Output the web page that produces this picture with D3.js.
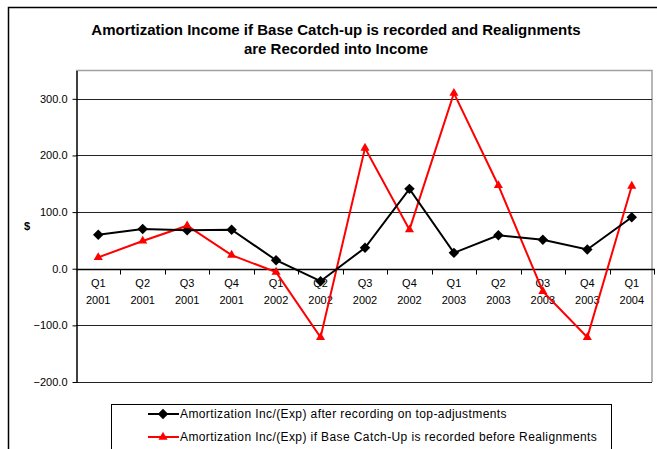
<!DOCTYPE html>
<html>
<head>
<meta charset="utf-8">
<script src="https://cdn.jsdelivr.net/npm/d3@7"></script>
<style>
  body { margin: 0; background: #fff; }
  svg { font-family: "Liberation Sans", Arial, sans-serif; }
  .tick text { font-size: 11px; fill: #000; font-family: "Liberation Sans", Arial, sans-serif; }
</style>
</head>
<body>
<svg id="chart" width="657" height="449"></svg>
<script>
const categories = ["Q1 2001", "Q2 2001", "Q3 2001", "Q4 2001", "Q1 2002", "Q2 2002", "Q3 2002",
                    "Q4 2002", "Q1 2003", "Q2 2003", "Q3 2003", "Q4 2003", "Q1 2004"]
const afterTopAdj = [60, 70, 68, 69, 15, -22, 37, 141, 28, 59, 51, 34, 91]
const baseCatchUp = [20, 49, 76, 24, -6, -121, 213, 69, 310, 147, -40, -121, 146]
const yTicks = [-200, -100, 0, 100, 200, 300]
const seriesNames = [
    "Amortization Inc/(Exp) after recording on top-adjustments",
    "Amortization Inc/(Exp) if Base Catch-Up is recorded before Realignments"
]

const chart = d3.select('#chart')

// outer chart border (runs off the picture on the right and bottom)
chart.append('rect')
    .attr('x', 8.5).attr('y', 7.5)
    .attr('width', 700).attr('height', 500)
    .attr('fill', 'none').attr('stroke', '#000').attr('stroke-width', 1.5)

// title
const title = chart.append('g').style('font-size', '15px').style('font-weight', 'bold')
title.append('text')
    .attr('x', 336).attr('y', 35)
    .attr('text-anchor', 'middle')
    .text('Amortization Income if Base Catch-up is recorded and Realignments')
title.append('text')
    .attr('x', 336).attr('y', 54)
    .attr('text-anchor', 'middle')
    .text('are Recorded into Income')

const x = d3.scaleBand().domain(categories).range([76, 654])
const cx = d => x(d) + x.bandwidth() / 2
const y = d3.scaleLinear().domain([-200, 350]).range([382, 70.5])

// plot area border (grey top and right)
chart.append('path')
    .attr('d', `M76,${y(350)}H652V${y(-200)}`)
    .attr('fill', 'none').attr('stroke', '#a0a0a0').attr('stroke-width', 1.5)

// gridlines
chart.append('g')
    .selectAll()
    .data(yTicks.filter(v => v !== 0))
    .enter()
    .append('line')
    .attr('x1', 76).attr('x2', 652)
    .attr('y1', v => Math.round(y(v)) + 0.5).attr('y2', v => Math.round(y(v)) + 0.5)
    .attr('stroke', '#222').attr('stroke-width', 1)

// y axis
const yAxis = d3.axisLeft(y)
    .tickValues(yTicks)
    .tickFormat(d3.format('.1f'))
    .tickSize(4)
    .tickSizeOuter(0)
    .tickPadding(5)
chart.append('g')
    .attr('transform', 'translate(76.5, 0)')
    .call(yAxis)
    .call(g => g.select('.domain').attr('stroke-width', 1.5))

chart.append('text')
    .attr('x', 27).attr('y', 230)
    .attr('text-anchor', 'middle')
    .style('font-size', '11px').style('font-weight', 'bold')
    .text('$')

// x axis at zero
const y0 = Math.round(y(0)) + 0.5
const xAxis = d3.axisBottom(x).tickSize(0).tickPadding(10)
const gx = chart.append('g')
    .attr('transform', `translate(0, ${y0})`)
    .call(xAxis)
gx.select('.domain').attr('d', 'M76,0H655').attr('stroke-width', 1.5)
gx.selectAll('.tick text').each(function (d) {
    const parts = d.split(' ')
    const t = d3.select(this).text(null)
    t.append('tspan').attr('x', 0).attr('dy', '0.71em').text(parts[0])
    t.append('tspan').attr('x', 0).attr('dy', '1.5em').text(parts[1])
})
// category separator ticks
chart.append('g')
    .selectAll()
    .data(categories.slice(1).concat(['end']))
    .enter()
    .append('line')
    .attr('x1', (d, i) => Math.round(x.range()[0] + (i + 1) * x.step()) + 0.5)
    .attr('x2', (d, i) => Math.round(x.range()[0] + (i + 1) * x.step()) + 0.5)
    .attr('y1', y0).attr('y2', y0 + 5)
    .attr('stroke', '#000')

// series
const line = d3.line().x((d, i) => cx(categories[i])).y(d => y(d))

chart.append('path')
    .datum(baseCatchUp)
    .attr('d', line)
    .attr('fill', 'none').attr('stroke', '#ff0000').attr('stroke-width', 2)

chart.append('path')
    .datum(afterTopAdj)
    .attr('d', line)
    .attr('fill', 'none').attr('stroke', '#000').attr('stroke-width', 2)

const diamond = d3.symbol().type(d3.symbolDiamond2).size(70)
const triangle = d3.symbol().type(d3.symbolTriangle).size(36)

chart.append('g')
    .selectAll()
    .data(afterTopAdj)
    .enter()
    .append('path')
    .attr('d', diamond)
    .attr('transform', (d, i) => `translate(${cx(categories[i])}, ${y(d)})`)
    .attr('fill', '#000')

chart.append('g')
    .selectAll()
    .data(baseCatchUp)
    .enter()
    .append('path')
    .attr('d', triangle)
    .attr('transform', (d, i) => `translate(${cx(categories[i])}, ${y(d)})`)
    .attr('fill', '#ff0000')

// legend
chart.append('rect')
    .attr('x', 111.5).attr('y', 404.5)
    .attr('width', 500).attr('height', 60)
    .attr('fill', '#fff').attr('stroke', '#000')

const legend = chart.append('g')
    .selectAll()
    .data(seriesNames)
    .enter()
    .append('g')
    .attr('transform', (d, i) => `translate(0, ${414 + i * 23})`)

legend.append('line')
    .attr('x1', 148).attr('x2', 179)
    .attr('stroke', (d, i) => i === 0 ? '#000' : '#ff0000').attr('stroke-width', 2)
legend.append('path')
    .attr('d', (d, i) => i === 0 ? diamond() : triangle())
    .attr('transform', 'translate(163, 0)')
    .attr('fill', (d, i) => i === 0 ? '#000' : '#ff0000')
legend.append('text')
    .attr('x', 180).attr('dy', '0.35em')
    .style('font-size', '12px')
    .style('letter-spacing', '0.4px')
    .text(d => d)
</script>
</body>
</html>
